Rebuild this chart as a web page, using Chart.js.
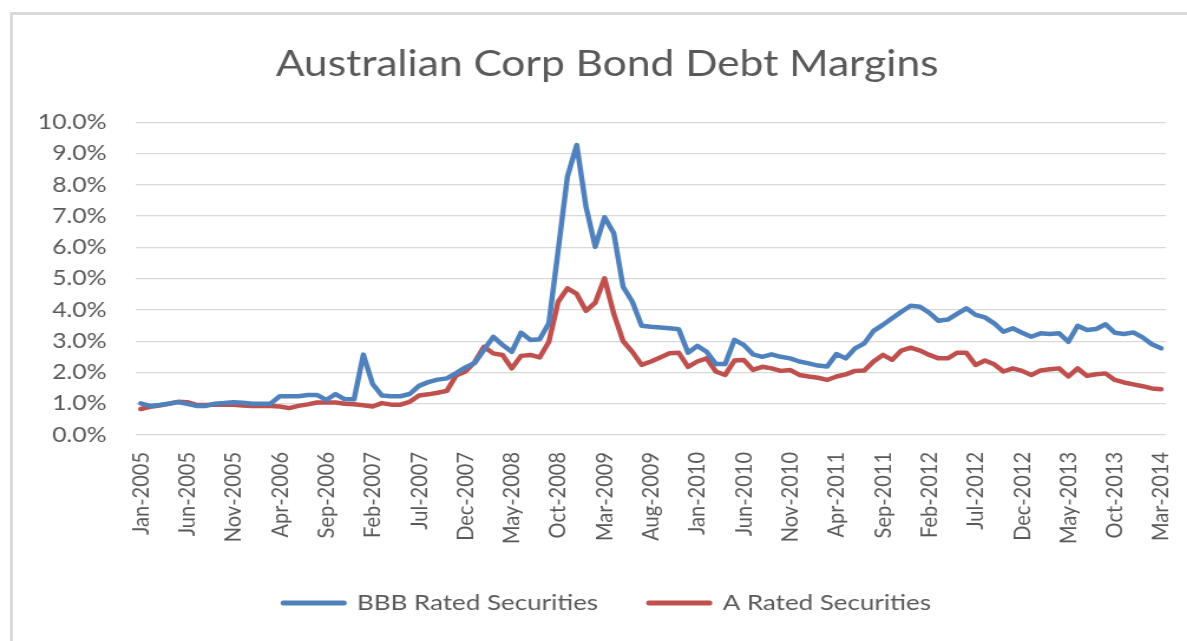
<!DOCTYPE html>
<html>
<head>
<meta charset="utf-8">
<title>Australian Corp Bond Debt Margins</title>
<script src="https://cdn.jsdelivr.net/npm/chart.js@4.4.1/dist/chart.umd.min.js"></script>
<style>
  html, body { margin: 0; padding: 0; background: #fff; overflow: hidden; }
  #frame {
    position: absolute; left: 10px; top: 12px; width: 1200px; height: 700px;
    border-left: 3px solid #d9d9d9; border-top: 3px solid #d9d9d9;
  }
  /* chart is drawn narrow and widened, like the original sheet export */
  #wrap { position: absolute; left: 0; top: 0; transform: scaleX(1.18); transform-origin: 0 0; }
</style>
</head>
<body>
<div id="frame"></div>
<div id="wrap"><canvas id="marginChart" width="1017" height="641"></canvas></div>
<script>
const monthNames = ['Jan', 'Feb', 'Mar', 'Apr', 'May', 'Jun', 'Jul', 'Aug', 'Sep', 'Oct', 'Nov', 'Dec'];
const firstYear = 2005;
const monthCount = 111; // Jan-2005 .. Mar-2014
const labelEvery = 5;

// monthly margins, %
const bbbRated = [
  1.01, 0.93, 0.96, 1.00, 1.05, 1.00, 0.93, 0.93, 1.00, 1.02, 1.05, 1.03,
  1.00, 1.00, 1.00, 1.24, 1.24, 1.24, 1.28, 1.28, 1.12, 1.31, 1.14, 1.14,
  2.57, 1.63, 1.26, 1.24, 1.24, 1.31, 1.57, 1.69, 1.77, 1.81, 1.98, 2.16,
  2.30, 2.72, 3.14, 2.88, 2.66, 3.27, 3.04, 3.06, 3.57, 5.90, 8.26, 9.27,
  7.30, 6.02, 6.96, 6.45, 4.74, 4.26, 3.49, 3.46, 3.44, 3.41, 3.38, 2.63,
  2.85, 2.66, 2.27, 2.27, 3.04, 2.88, 2.58, 2.50, 2.58, 2.50, 2.45, 2.35,
  2.29, 2.22, 2.19, 2.59, 2.45, 2.77, 2.93, 3.33, 3.52, 3.73, 3.94, 4.13,
  4.10, 3.91, 3.65, 3.69, 3.87, 4.05, 3.84, 3.76, 3.57, 3.30, 3.41, 3.27,
  3.14, 3.25, 3.23, 3.25, 2.98, 3.49, 3.36, 3.39, 3.54, 3.27, 3.23, 3.28,
  3.12, 2.90, 2.77
];
const aRated = [
  0.83, 0.90, 0.94, 1.00, 1.06, 1.05, 0.96, 0.96, 0.97, 0.97, 0.97, 0.94,
  0.93, 0.93, 0.93, 0.91, 0.86, 0.93, 0.98, 1.04, 1.04, 1.04, 1.00, 0.98,
  0.95, 0.91, 1.02, 0.97, 0.97, 1.06, 1.26, 1.30, 1.35, 1.41, 1.90, 2.03,
  2.33, 2.82, 2.61, 2.56, 2.13, 2.53, 2.56, 2.48, 2.98, 4.26, 4.69, 4.51,
  3.97, 4.23, 5.01, 3.87, 3.00, 2.66, 2.24, 2.35, 2.48, 2.61, 2.63, 2.18,
  2.35, 2.45, 2.03, 1.92, 2.38, 2.40, 2.08, 2.18, 2.13, 2.05, 2.08, 1.92,
  1.87, 1.83, 1.76, 1.87, 1.94, 2.05, 2.06, 2.35, 2.56, 2.40, 2.70, 2.79,
  2.70, 2.56, 2.45, 2.45, 2.63, 2.63, 2.24, 2.38, 2.26, 2.03, 2.13, 2.05,
  1.92, 2.06, 2.10, 2.13, 1.87, 2.13, 1.89, 1.94, 1.97, 1.76, 1.68, 1.62,
  1.56, 1.49, 1.46
];

const months = [];
for (let i = 0; i < monthCount; i++) {
  months.push(monthNames[i % 12] + '-' + (firstYear + Math.floor(i / 12)));
}

document.addEventListener("DOMContentLoaded", function () {
  Chart.defaults.font.family = 'Lato, "Open Sans", sans-serif';
  Chart.defaults.color = '#595959';

  const series = (label, values, colour) => ({
    label: label,
    data: values,
    borderColor: colour,
    backgroundColor: colour,
    borderWidth: 4.5,
    borderCapStyle: 'round',
    borderJoinStyle: 'round',
    pointRadius: 0,
    tension: 0
  });

  // the right margin comes from the last rotated x label (about 29px)
  new Chart(document.getElementById('marginChart'), {
    type: 'line',
    data: {
      labels: months,
      datasets: [
        series('BBB Rated Securities', bbbRated, '#4F81BD'),
        series('A Rated Securities', aRated, '#C0504D')
      ]
    },
    options: {
      responsive: false,
      animation: false,
      layout: { padding: { left: 12, right: 0, top: 0, bottom: 17 } },
      plugins: {
        title: {
          display: true,
          text: 'Australian Corp Bond Debt Margins',
          color: '#595959',
          font: { size: 36, weight: 'normal' },
          padding: { top: 43, bottom: 36 }
        },
        legend: {
          position: 'bottom',
          labels: { boxWidth: 51.5, boxHeight: 0.5, padding: 43, font: { size: 22 }, color: '#595959' }
        },
        tooltip: { enabled: false }
      },
      scales: {
        x: {
          offset: true,
          grid: { display: false },
          border: { display: false },
          ticks: {
            autoSkip: false,
            minRotation: 90,
            maxRotation: 90,
            padding: 9,
            font: { size: 20 },
            callback: (v, i) => (i % labelEvery === 0 ? months[i] : null)
          },
          afterFit: (scale) => { scale.height = 114; }
        },
        y: {
          min: 0,
          max: 10,
          grid: { color: '#d9d9d9', lineWidth: 1.3, drawTicks: false },
          border: { display: false },
          ticks: {
            stepSize: 1,
            padding: 25,
            font: { size: 21 },
            callback: (v) => v.toFixed(1) + '%'
          },
          afterFit: (scale) => { scale.width = 103.3; }
        }
      }
    }
  });
});
</script>
</body>
</html>
